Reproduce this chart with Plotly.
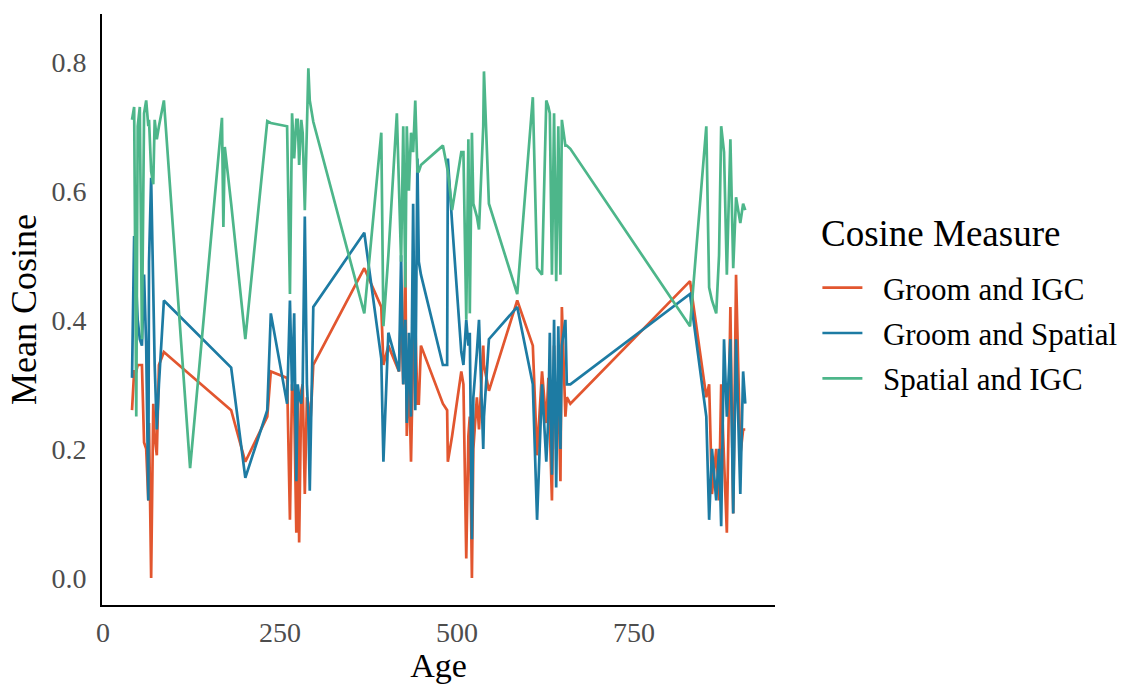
import plotly.graph_objects as go

# Age of each observation (shared by the three cosine measures)
age = [
    41, 44, 47, 49, 52, 55, 58, 61, 64, 65, 68, 71, 73, 76, 79, 86,
    123, 168, 170, 172, 181, 201, 232, 237, 260,
    264, 267, 270, 273, 275, 277, 280, 282, 285, 288, 290, 292, 297,
    369, 393, 396, 403, 415, 418, 421, 424, 427, 429, 432, 435, 438, 441, 444, 446, 449,
    480, 486, 487, 493, 506, 509, 513, 516, 518, 521, 523, 528, 531, 537, 538, 545,
    585, 607, 613, 620, 626,
    629, 631, 634, 637, 640, 643, 646, 648, 653, 655, 660,
    829, 852, 856, 860, 866, 870, 873, 877, 881, 886, 890, 894, 900, 904, 907,
]

groom_igc = [
    0.26, 0.32, 0.32, 0.33, 0.33, 0.33, 0.21, 0.20, 0.12, 0.24, 0.00, 0.27, 0.22, 0.19, 0.33, 0.35,
    0.315, 0.272, 0.271, 0.268, 0.26, 0.18, 0.25, 0.32, 0.31,
    0.09, 0.30, 0.27, 0.07, 0.29, 0.055, 0.29, 0.30, 0.13, 0.28, 0.27, 0.22, 0.33,
    0.48, 0.42, 0.33, 0.36, 0.33, 0.32, 0.42, 0.30, 0.49, 0.22, 0.33, 0.18, 0.35, 0.40, 0.27, 0.27, 0.36,
    0.27, 0.26, 0.18, 0.22, 0.32, 0.30, 0.03, 0.22, 0.25, 0.00, 0.20, 0.28, 0.23, 0.36, 0.33, 0.29,
    0.43, 0.36, 0.19, 0.32, 0.24,
    0.31, 0.23, 0.12, 0.36, 0.20, 0.30, 0.15, 0.42, 0.25, 0.28, 0.27,
    0.46, 0.28, 0.30, 0.13, 0.20, 0.12, 0.30, 0.18, 0.07, 0.42, 0.10, 0.47, 0.19, 0.23, 0.23,
]

groom_spatial = [
    0.31, 0.53, 0.45, 0.40, 0.37, 0.36, 0.47, 0.36, 0.12, 0.49, 0.62, 0.40, 0.33, 0.23, 0.30, 0.43,
    0.39, 0.34, 0.339, 0.336, 0.326, 0.155, 0.26, 0.41, 0.27,
    0.43, 0.29, 0.41, 0.15, 0.30, 0.28, 0.27, 0.30, 0.56, 0.30, 0.25, 0.135, 0.42,
    0.535, 0.34, 0.18, 0.38, 0.33, 0.32, 0.50, 0.30, 0.40, 0.24, 0.38, 0.25, 0.58, 0.26, 0.65, 0.49, 0.47,
    0.33, 0.33, 0.65, 0.55, 0.35, 0.33, 0.40, 0.36, 0.38, 0.06, 0.28, 0.35, 0.40, 0.20, 0.25, 0.37,
    0.42, 0.30, 0.09, 0.30, 0.18,
    0.25, 0.38, 0.16, 0.40, 0.14, 0.39, 0.20, 0.36, 0.40, 0.30, 0.30,
    0.44, 0.25, 0.09, 0.20, 0.12, 0.20, 0.08, 0.37, 0.25, 0.37, 0.10, 0.37, 0.13, 0.32, 0.27,
]

spatial_igc = [
    0.71, 0.73, 0.25, 0.70, 0.73, 0.37, 0.72, 0.74, 0.70, 0.71, 0.63, 0.61, 0.71, 0.68, 0.70, 0.74,
    0.17, 0.713, 0.544, 0.668, 0.58, 0.37, 0.708, 0.705, 0.70,
    0.44, 0.72, 0.65, 0.71, 0.71, 0.64, 0.71, 0.69, 0.57, 0.70, 0.79, 0.74, 0.707,
    0.41, 0.69, 0.39, 0.50, 0.72, 0.60, 0.49, 0.70, 0.45, 0.70, 0.60, 0.69, 0.66, 0.74, 0.63, 0.63, 0.64,
    0.67, 0.64, 0.63, 0.57, 0.66, 0.66, 0.40, 0.68, 0.41, 0.69, 0.58, 0.56, 0.54, 0.70, 0.785, 0.58,
    0.44, 0.745, 0.48, 0.47, 0.74,
    0.73, 0.72, 0.47, 0.72, 0.46, 0.70, 0.47, 0.71, 0.67, 0.67, 0.665,
    0.39, 0.70, 0.45, 0.43, 0.41, 0.50, 0.70, 0.66, 0.47, 0.68, 0.48, 0.59, 0.55, 0.58, 0.57,
]

series = [
    ("Groom and IGC", groom_igc, "#E2562F"),
    ("Groom and Spatial", groom_spatial, "#1D7BA3"),
    ("Spatial and IGC", spatial_igc, "#4DB68A"),
]

x_ticks = [0, 250, 500, 750]
y_ticks = [0.0, 0.2, 0.4, 0.6, 0.8]
y_tick_text = ["0.0", "0.2", "0.4", "0.6", "0.8"]

SERIF = "Liberation Serif, Times New Roman, serif"
PAD = "\u00a0\u00a0"  # gap between legend key and label

fig = go.Figure()
for name, values, color in series:
    fig.add_trace(go.Scatter(
        x=age, y=values, mode="lines", name=PAD + name, legendgroup=name,
        line=dict(color=color, width=2.7),
    ))

fig.update_layout(
    width=1129, height=684,
    margin=dict(l=102, r=354, t=14, b=79, autoexpand=False),
    paper_bgcolor="white", plot_bgcolor="white",
    font=dict(family=SERIF, color="black"),
    showlegend=True,
    legend=dict(
        font=dict(size=31, family=SERIF, color="black"),
        x=1.063, xanchor="left", y=0.582, yanchor="top",
        tracegroupgap=2, itemwidth=40, bgcolor="rgba(0,0,0,0)",
    ),
    annotations=[dict(
        text="Cosine Measure", xref="paper", yref="paper",
        x=1.066, y=0.628, xanchor="left", yanchor="middle", showarrow=False,
        font=dict(size=37, family=SERIF, color="black"),
    )],
)

fig.update_xaxes(
    range=[-1.4, 949], tickvals=x_ticks, ticktext=[str(v) for v in x_ticks],
    showline=True, linecolor="black", linewidth=2, showgrid=False, zeroline=False,
    ticks="outside", ticklen=1, tickcolor="rgba(0,0,0,0)", automargin=False,
    tickfont=dict(size=28, family=SERIF, color="#4D4D4D"),
    title=dict(text="Age", font=dict(size=34, family=SERIF, color="black"), standoff=5),
)
fig.update_yaxes(
    range=[-0.042, 0.874], tickvals=y_ticks, ticktext=y_tick_text,
    showline=True, linecolor="black", linewidth=2, showgrid=False, zeroline=False,
    ticks="outside", ticklen=8, tickcolor="rgba(0,0,0,0)", automargin=False,
    tickfont=dict(size=28, family=SERIF, color="#4D4D4D"),
    title=dict(text="Mean Cosine", font=dict(size=36, family=SERIF, color="black"), standoff=4),
)

fig.write_html("out.html")
